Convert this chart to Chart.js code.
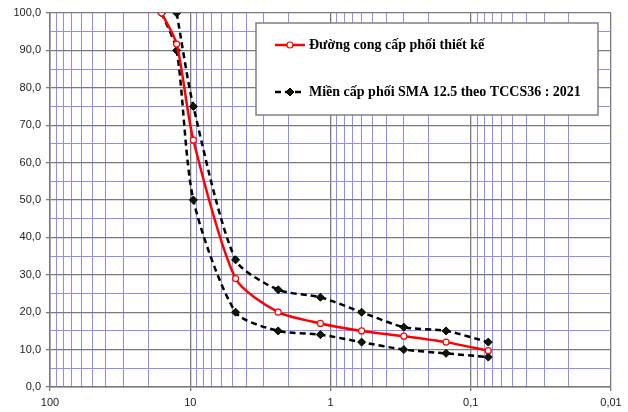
<!DOCTYPE html>
<html>
<head>
<meta charset="utf-8">
<script src="https://cdn.jsdelivr.net/npm/chart.js@4"></script>
<style>
  html, body { margin: 0; padding: 0; background: #fff; }
  #wrap { width: 628px; height: 412px; }
</style>
</head>
<body>
<div id="wrap"><canvas id="gradationChart" width="628" height="412"></canvas></div>
<script>
// sieve sizes (mm) and percent passing
const sieves = [16, 12.5, 9.5, 4.75, 2.36, 1.18, 0.6, 0.3, 0.15, 0.075];
const designCurve = [100, 91.7, 66, 29, 20, 17, 15, 13.6, 12, 9.7];
const lowerLimit = [100, 90, 50, 20, 15, 14, 12, 10, 9, 8];
const upperSieves = [12.5, 9.5, 4.75, 2.36, 1.18, 0.6, 0.3, 0.15, 0.075];
const upperLimit = [100, 75, 34, 26, 24, 20, 16, 15, 12];

const xDecades = [100, 10, 1, 0.1, 0.01];
const yTickLabels = ['0,0', '10,0', '20,0', '30,0', '40,0', '50,0', '60,0', '70,0', '80,0', '90,0', '100,0'];

const legendLabels = ['Đường cong cấp phối thiết kế', 'Miền cấp phối SMA 12.5 theo TCCS36 : 2021'];

const MAJOR = '#7a7a7a';
const MINOR = '#8c8cff';

function toPoints(xs, ys) {
  return xs.map((x, i) => ({ x: x, y: ys[i] }));
}

function isDecade(v) {
  const l = Math.log10(v);
  return Math.abs(l - Math.round(l)) < 1e-6;
}

function fmtDecade(v) {
  return String(v).replace('.', ',');
}

const legendBox = {
  id: 'legendBox',
  afterDraw(chart) {
    const ctx = chart.ctx;
    const ds = chart.data.datasets;
    ctx.save();
    ctx.fillStyle = '#fff';
    ctx.fillRect(256, 23, 342, 92);
    ctx.strokeStyle = '#808080';
    ctx.lineWidth = 1.5;
    ctx.strokeRect(256, 23, 342, 92);

    const rows = [{ y: 45, d: ds[0] }, { y: 92, d: ds[1] }];
    rows.forEach((r, i) => {
      ctx.strokeStyle = r.d.borderColor;
      ctx.lineWidth = r.d.borderWidth;
      ctx.setLineDash(r.d.borderDash || []);
      ctx.beginPath();
      ctx.moveTo(275, r.y);
      ctx.lineTo(305, r.y);
      ctx.stroke();
      ctx.setLineDash([]);

      ctx.fillStyle = r.d.pointBackgroundColor;
      ctx.strokeStyle = r.d.pointBorderColor;
      ctx.lineWidth = r.d.pointBorderWidth;
      ctx.beginPath();
      if (r.d.pointStyle === 'circle') {
        ctx.arc(290, r.y, r.d.pointRadius, 0, Math.PI * 2);
      } else {
        const s = r.d.pointRadius;
        ctx.moveTo(290, r.y - s); ctx.lineTo(290 + s, r.y);
        ctx.lineTo(290, r.y + s); ctx.lineTo(290 - s, r.y); ctx.closePath();
      }
      ctx.fill();
      ctx.stroke();

      ctx.fillStyle = '#000';
      ctx.font = 'bold 14px "Liberation Serif", "Times New Roman", serif';
      ctx.textBaseline = 'middle';
      ctx.textAlign = 'left';
      ctx.fillText(legendLabels[i], 309, r.y);
    });
    ctx.restore();
  }
};

const ctx = document.getElementById('gradationChart').getContext('2d');
new Chart(ctx, {
  type: 'line',
  data: {
    datasets: [
      {
        label: legendLabels[0],
        data: toPoints(sieves, designCurve),
        borderColor: '#ff0000',
        borderWidth: 2.5,
        pointStyle: 'circle',
        pointRadius: 3,
        pointBorderWidth: 1.2,
        pointBackgroundColor: '#fff',
        pointBorderColor: '#ff0000',
        tension: 0.25,
        order: 1
      },
      {
        label: legendLabels[1],
        data: toPoints(upperSieves, upperLimit),
        borderColor: '#000',
        borderWidth: 2.5,
        borderDash: [6, 4],
        pointStyle: 'rectRot',
        pointRadius: 4,
        pointBorderWidth: 1,
        pointBackgroundColor: '#0a1a00',
        pointBorderColor: '#000',
        tension: 0.25,
        order: 2
      },
      {
        label: 'lower',
        data: toPoints(sieves, lowerLimit),
        borderColor: '#000',
        borderWidth: 2.5,
        borderDash: [6, 4],
        pointStyle: 'rectRot',
        pointRadius: 4,
        pointBorderWidth: 1,
        pointBackgroundColor: '#0a1a00',
        pointBorderColor: '#000',
        tension: 0.25,
        order: 2
      }
    ]
  },
  options: {
    responsive: false,
    animation: false,
    devicePixelRatio: 1,
    layout: { padding: { top: 13, right: 17, bottom: 0, left: 0 } },
    plugins: {
      legend: { display: false },
      tooltip: { enabled: false }
    },
    scales: {
      x: {
        type: 'logarithmic',
        reverse: true,
        min: 0.01,
        max: 100,
        afterBuildTicks: scale => {
          const ticks = [];
          xDecades.slice(1).forEach(d => {
            for (let k = 1; k <= 9; k++) ticks.push({ value: +(d * k).toPrecision(6) });
          });
          ticks.push({ value: 100 });
          scale.ticks = ticks;
        },
        afterFit: scale => { scale.height = 25; },
        border: { color: MAJOR, width: 1.5 },
        grid: {
          color: c => isDecade(c.tick.value) ? MAJOR : MINOR,
          tickColor: c => isDecade(c.tick.value) ? MAJOR : 'rgba(0,0,0,0)',
          lineWidth: c => isDecade(c.tick.value) ? 1.3 : 1,
          tickLength: 4
        },
        ticks: {
          autoSkip: false,
          maxRotation: 0,
          padding: 5,
          color: '#222',
          font: { family: '"Liberation Sans", Arial, sans-serif', size: 11 },
          callback: v => xDecades.includes(v) ? fmtDecade(v) : ''
        }
      },
      y: {
        type: 'linear',
        min: 0,
        max: 100,
        afterFit: scale => { scale.width = 50; },
        border: { color: MAJOR, width: 1.5 },
        grid: {
          color: c => c.tick.value % 10 === 0 ? MAJOR : MINOR,
          tickColor: c => c.tick.value % 10 === 0 ? MAJOR : 'rgba(0,0,0,0)',
          lineWidth: c => c.tick.value % 10 === 0 ? 1.3 : 1,
          tickLength: 4
        },
        ticks: {
          stepSize: 5,
          autoSkip: false,
          padding: 5,
          color: '#222',
          font: { family: '"Liberation Sans", Arial, sans-serif', size: 11 },
          callback: v => v % 10 === 0 ? yTickLabels[v / 10] : ''
        }
      }
    }
  },
  plugins: [legendBox]
});
</script>
</body>
</html>
